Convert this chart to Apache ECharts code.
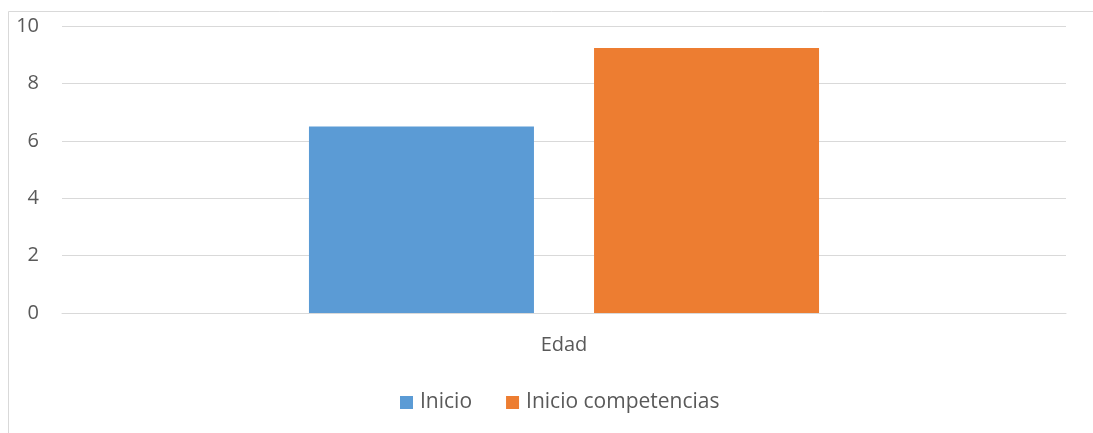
<!DOCTYPE html>
<html><head><meta charset="utf-8">
<script src="https://cdn.jsdelivr.net/npm/echarts@6/dist/echarts.min.js"></script>
<style>html,body{margin:0;padding:0;background:#fff}#c{width:1093px;height:433px}</style>
</head><body><div id="c"></div>
<script>
const categories = ['Edad'];
const seriesNames = ['Inicio', 'Inicio competencias'];
const inicio = [6.5];
const inicioCompetencias = [9.23];
const colors = ['#5B9BD5', '#ED7D31'];

const chart = echarts.init(document.getElementById('c'), null, {renderer: 'canvas'});
const font = 'Open Sans, Liberation Sans, sans-serif';
chart.setOption({
  animation: false,
  backgroundColor: '#fff',
  graphic: [{type: 'rect', shape: {x: 8.5, y: 11.5, width: 1100, height: 440}, style: {fill: 'none', stroke: '#d9d9d9', lineWidth: 1}}],
  grid: {left: 62, right: 27, top: 26, bottom: 120},
  legend: {
    top: 387, left: 395, itemWidth: 13, itemHeight: 13, itemGap: 34,
    icon: 'rect',
    textStyle: {color: '#595959', fontSize: 21, fontFamily: font, padding: [0, 0, 0, 2]},
    data: seriesNames
  },
  xAxis: {
    type: 'category', data: categories,
    axisLine: {show: true, lineStyle: {color: '#d9d9d9', width: 1}},
    axisTick: {show: false},
    axisLabel: {color: '#595959', fontSize: 20, fontFamily: font, margin: 22}
  },
  yAxis: {
    type: 'value', min: 0, max: 10, interval: 2,
    axisLine: {show: false}, axisTick: {show: false},
    splitLine: {lineStyle: {color: '#d9d9d9', width: 1}},
    axisLabel: {color: '#595959', fontSize: 20, fontFamily: font, margin: 23}
  },
  series: [
    {name: seriesNames[0], type: 'bar', data: inicio, barWidth: 225, barGap: '26.7%', itemStyle: {color: colors[0]}},
    {name: seriesNames[1], type: 'bar', data: inicioCompetencias, barWidth: 225, itemStyle: {color: colors[1]}}
  ]
});
</script></body></html>
